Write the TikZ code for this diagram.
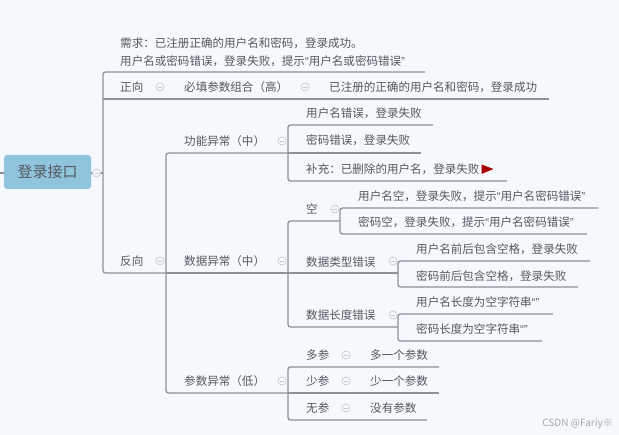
\documentclass[tikz,border=0pt]{standalone}
\usepackage{fontspec}
\setmainfont{Noto Sans CJK SC}
\newfontfamily\quotefont{Liberation Sans}
\usetikzlibrary{positioning,calc}
\definecolor{linegray}{HTML}{8C919C}
\definecolor{textgray}{HTML}{55585E}
\definecolor{foldgray}{HTML}{C6CBD2}
\definecolor{paper}{HTML}{F5F9FD}
\definecolor{rootblue}{HTML}{8FC4DC}
\newcommand{\openq}{{\quotefont\char"201C}}
\newcommand{\closeq}{{\quotefont\char"201D}}
\tikzset{
  lab/.style={anchor=west,inner sep=0pt,text=textgray,font=\fontsize{11.55pt}{17.5pt}\selectfont},
  link/.style={draw=linegray,line width=1.3pt,rounded corners=2.5pt},
  fold/.style={circle,draw=foldgray,fill=paper,line width=0.7pt,minimum size=8pt,inner sep=0pt,
    path picture={\draw[foldgray,line width=0.7pt] ($(path picture bounding box.west)+(2pt,0)$) -- ($(path picture bounding box.east)+(-2pt,0)$);}}
}
\begin{document}
\begin{tikzpicture}[x=1pt,y=-1pt]
\useasboundingbox[fill=paper] (0,0) rectangle (619,435);
% root
\node[fill=rootblue,rounded corners=3pt,minimum width=87pt,minimum height=34pt,inner sep=0pt,text=textgray,font=\fontsize{15pt}{18pt}\selectfont] (root) at (47.5,172) {登录接口};
\coordinate (stub) at (0,173);
\coordinate (aTop) at (103,72);
\coordinate (aBot) at (103,273);
\coordinate (aMid) at (103,173);
\coordinate (bTop) at (166,153);
\coordinate (bMid) at (166,273);
\coordinate (bBot) at (166,393);
\draw[link] (stub) -- (root.west |- stub);
\draw[link] (root.east |- aMid) -- (aMid);
\node[fold] (froot) at (96.5,173) {};

% first level
\node[lab] (need) at (120,53) {\begin{tabular}{@{}l@{}}需求：已注册正确的用户名和密码，登录成功。\\[0.5pt]用户名或密码错误，登录失败，提示\openq 用户名或密码错误\closeq\end{tabular}};
\node[lab] (zheng) at (120,87) {正向};
\node[fold] (fzheng) at (160,87) {};
\node[lab] (fan) at (120,261) {反向};
\node[fold] (ffan) at (160,261) {};
\coordinate (needE) at (425,72);
\draw[link] (needE) -- (aTop) -- (aBot) -- (bMid);
\coordinate (zhengS) at (103,99);
\coordinate (zhengE) at (549,99);
\draw[link] (zhengS) -- (zhengE);

% second level
\node[lab] (must) at (184,87) {必填参数组合（高）};
\node[fold] (fmust) at (305,87) {};
\node[lab] (mustA) at (329,87) {已注册的正确的用户名和密码，登录成功};
\node[lab] (gong) at (184,141) {功能异常（中）};
\node[fold] (fgong) at (282,141) {};
\node[lab] (shu) at (184,261) {数据异常（中）};
\node[fold] (fshu) at (282,261) {};
\node[lab] (can) at (184,381) {参数异常（低）};
\node[fold] (fcan) at (282,381) {};
\coordinate (cA) at (288,153);
\coordinate (cB) at (288,273);
\coordinate (cC) at (288,393);
\draw[link] (cA) -- (bTop) -- (bBot) -- (cC);
\draw[link] (bMid) -- (cB);

% functional
\node[lab] (g1) at (306,113) {用户名错误，登录失败};
\node[lab] (g2) at (306,140) {密码错误，登录失败};
\node[lab] (g3) at (306,169) {补充：已删除的用户名，登录失败};
\coordinate (g1E) at (433,125);
\coordinate (g2E) at (421,153);
\coordinate (g3E) at (507,181);
\draw[link] (g1E) -- (288,125) -- (288,181) -- (g3E);
\draw[link] (cA) -- (g2E);
\fill[red!65!black] (481.5,164.5) -- (493.5,169) -- (481.5,174) -- cycle;

% data
\node[lab] (d1) at (306,209) {空};
\node[fold] (fd1) at (335,209) {};
\node[lab] (d2) at (306,262) {数据类型错误};
\node[fold] (fd2) at (393,261) {};
\node[lab] (d3) at (306,315) {数据长度错误};
\node[fold] (fd3) at (393,315) {};
\coordinate (dA) at (340,221);
\coordinate (dB) at (398,273);
\coordinate (dC) at (398,327);
\draw[link] (dA) -- (288,221) -- (288,327) -- (dC);
\draw[link] (cB) -- (dB);

\node[lab] (e1) at (358,196) {用户名空，登录失败，提示\openq 用户名密码错误\closeq};
\node[lab] (e2) at (358,222) {密码空，登录失败，提示\openq 用户名密码错误\closeq};
\coordinate (e1E) at (598,208);
\coordinate (e2E) at (587,234);
\draw[link] (e1E) -- (340,208) -- (340,234) -- (e2E);

\node[lab] (t1) at (416,249) {用户名前后包含空格，登录失败};
\node[lab] (t2) at (416,276) {密码前后包含空格，登录失败};
\coordinate (t1E) at (590,261);
\coordinate (t2E) at (578,287);
\draw[link] (t1E) -- (398,261) -- (398,287) -- (t2E);

\node[lab] (l1) at (416,302) {用户名长度为空字符串\openq\closeq};
\node[lab] (l2) at (416,329) {密码长度为空字符串\openq\closeq};
\coordinate (l1E) at (553,314);
\coordinate (l2E) at (542,341);
\draw[link] (l1E) -- (398,314) -- (398,341) -- (l2E);

% params
\node[lab] (p1) at (306,355) {多参};
\node[fold] (fp1) at (346,355) {};
\node[lab] (q1) at (370,355) {多一个参数};
\node[lab] (p2) at (306,381) {少参};
\node[fold] (fp2) at (346,381) {};
\node[lab] (q2) at (370,381) {少一个参数};
\node[lab] (p3) at (306,408) {无参};
\node[fold] (fp3) at (346,408) {};
\node[lab] (q3) at (370,408) {没有参数};
\coordinate (p1E) at (439,367);
\coordinate (p2E) at (439,393);
\coordinate (p3E) at (427,420);
\draw[link] (p1E) -- (288,367) -- (288,420) -- (p3E);
\draw[link] (cC) -- (p2E);

% watermark
\node[anchor=east,inner sep=0pt,text=gray!70,font=\fontsize{10pt}{11pt}\selectfont] (mark) at (613,424) {CSDN @Fariy※};
\end{tikzpicture}
\end{document}
